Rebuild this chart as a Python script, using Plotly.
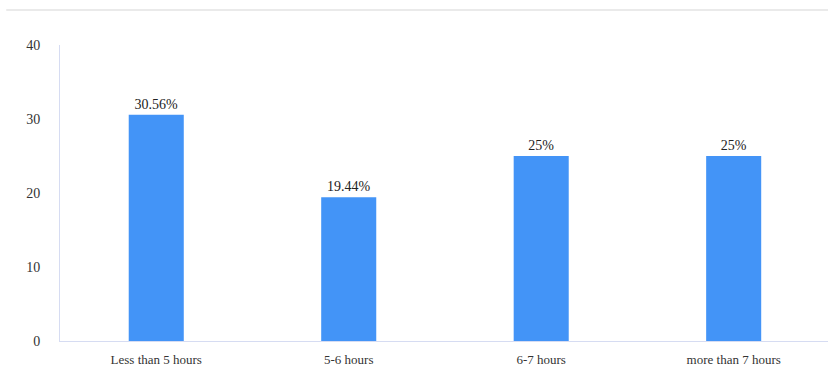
import plotly.graph_objects as go

categories = ["Less than 5 hours", "5-6 hours", "6-7 hours", "more than 7 hours"]
values = [30.56, 19.44, 25, 25]
labels = ["30.56%", "19.44%", "25%", "25%"]

fig = go.Figure(go.Bar(
    x=categories, y=values, text=labels, textposition="outside",
    marker=dict(color="#4394f7", line=dict(width=0)),
    textfont=dict(family="Liberation Serif", size=14, color="#222222"),
    cliponaxis=False,
))
fig.update_layout(
    width=828, height=367,
    margin=dict(l=60, r=0, t=45, b=26),
    paper_bgcolor="white", plot_bgcolor="white",
    bargap=0.714,
    showlegend=False,
    font=dict(family="Liberation Serif", size=13, color="#333333"),
    xaxis=dict(showline=True, linecolor="#d6dcf2", linewidth=1, showgrid=False,
               range=[-0.5, 3.49],
               ticks="outside", ticklen=6, tickcolor="rgba(0,0,0,0)",
               tickfont=dict(size=13, color="#333333")),
    yaxis=dict(range=[0, 40], dtick=10, showline=True, linecolor="#d6dcf2", linewidth=1,
               showgrid=False, zeroline=False, ticks="outside", ticklen=16,
               tickcolor="rgba(0,0,0,0)", tickfont=dict(size=14, color="#333333")),
    shapes=[dict(type="line", xref="paper", yref="paper", x0=-0.07, x1=1.01,
                 y0=1.118, y1=1.118, line=dict(color="#e3e3e3", width=1.5))],
)
fig.write_html("out.html")
